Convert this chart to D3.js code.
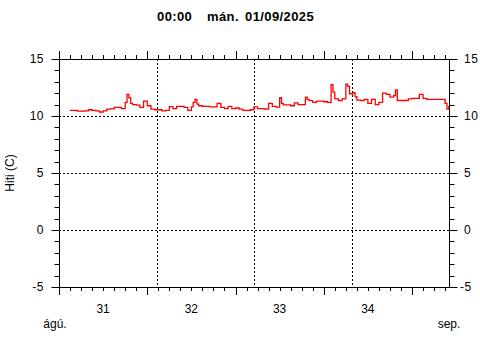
<!DOCTYPE html>
<html><head><meta charset="utf-8">
<script src="https://cdn.jsdelivr.net/npm/d3@7"></script>
<style>
html,body{margin:0;padding:0;background:#fff;}
svg{display:block;font-family:"Liberation Sans",Arial,sans-serif;}
</style></head>
<body>
<svg id="chart" width="480" height="360"></svg>
<script>
// ---- data ----
const titleParts = ["00:00", "mán.", "01/09/2025"];
const yLabel = "Hiti (C)";
const dayLabels = ["31", "32", "33", "34"];
const monthLabels = ["ágú.", "sep."];
const yTicks = [-5, 0, 5, 10, 15];
const yGrid = [0, 5, 10];
// hours since start of 31 ágú.
const hours = [3,4,5,6,7,8,9,10,11,12,13,14,15,16,17,18,18.5,19,19.5,20,21,22,23,24,25,26,27,28,29,30,31,32,33,34,35,36,36.5,37,37.5,38,39,40,41,42,43,44,45,46,47,48,49,50,51,52,53,54,55,56,57,58,59,60,60.5,61,62,63,64,65,66,67,67.5,68,69,70,71,72,73,74,74.5,75,76,77,78,78.5,79,80,80.5,81,82,83,84,85,86,87,88,89,90,91,91.5,92,93,94,95,96,97,98,99,100,101,102,103,104,105,105.5,106];
const temps = [10.5,10.5,10.42,10.42,10.45,10.55,10.5,10.45,10.35,10.45,10.6,10.62,10.75,10.75,10.65,11.2,11.9,11.6,11.1,11.0,10.95,10.75,11.3,10.9,10.6,10.55,10.55,10.45,10.5,10.83,10.65,10.85,10.85,10.75,10.5,10.8,11.2,11.45,11.05,10.9,10.85,10.85,10.8,10.8,11.1,10.75,10.65,10.85,10.65,10.7,10.6,10.5,10.5,10.55,10.8,10.65,10.65,10.6,11.1,10.85,10.77,11.6,11.1,10.98,10.98,10.9,11.15,11.0,11.0,11.65,11.45,11.35,11.2,11.3,11.3,11.25,11.2,12.75,12.1,11.5,11.35,11.5,12.8,12.6,11.95,12.05,11.7,11.4,11.36,11.45,11.1,11.45,11.0,11.2,12.0,11.9,11.65,11.8,12.3,11.36,11.36,11.36,11.5,11.55,11.55,11.9,11.55,11.45,11.45,11.45,11.45,11.45,11.1,10.6,10.9];

// ---- layout ----
const L = 59, R = 449, T = 59, B = 287;
const xDomainEnd = 106.06;
const svg = d3.select("#chart");
const x = d3.scaleLinear().domain([0, xDomainEnd]).range([L, R]);
const y = d3.scaleLinear().domain([-5, 15]).range([B, T]);

const data = hours.map((h, i) => ({h, v: temps[i]}));

// grid
const g = svg.append("g");
g.selectAll(".hg").data(yGrid).join("line")
  .attr("x1", L).attr("x2", R)
  .attr("y1", d => Math.round(y(d)) + 0.5).attr("y2", d => Math.round(y(d)) + 0.5)
  .attr("stroke", "#000").attr("stroke-dasharray", "2,2");
const vGrid = d3.range(1, 4).map(i => xDomainEnd * i / 4);
g.selectAll(".vg").data(vGrid).join("line")
  .attr("x1", d => Math.round(x(d)) + 0.5).attr("x2", d => Math.round(x(d)) + 0.5)
  .attr("y1", T).attr("y2", B)
  .attr("stroke", "#000").attr("stroke-dasharray", "2,2");

// data line
svg.append("path").datum(data)
  .attr("fill", "none").attr("stroke", "#ff0000").attr("stroke-width", 1.3)
  .attr("d", d3.line().x(d => x(d.h)).y(d => y(d.v)).curve(d3.curveStepAfter));

// frame
svg.append("rect").attr("x", L + 0.5).attr("y", T + 0.5).attr("width", R - L).attr("height", B - T)
  .attr("fill", "none").attr("stroke", "#000");

// x ticks (top & bottom)
const xMajor = d3.range(0, xDomainEnd, 24);
const xMinor = d3.range(0, xDomainEnd, 3).filter(h => h % 24 !== 0);
const xax = svg.append("g").attr("stroke", "#000");
xax.selectAll(".xtM").data(xMajor).join("line")
  .attr("x1", d => Math.round(x(d)) + 0.5).attr("x2", d => Math.round(x(d)) + 0.5)
  .attr("y1", T - 8).attr("y2", T);
xax.selectAll(".xtm").data(xMinor).join("line")
  .attr("x1", d => Math.round(x(d)) + 0.5).attr("x2", d => Math.round(x(d)) + 0.5)
  .attr("y1", T - 4).attr("y2", T);
xax.selectAll(".xbM").data(xMajor).join("line")
  .attr("x1", d => Math.round(x(d)) + 0.5).attr("x2", d => Math.round(x(d)) + 0.5)
  .attr("y1", B).attr("y2", B + 8);
xax.selectAll(".xbm").data(xMinor).join("line")
  .attr("x1", d => Math.round(x(d)) + 0.5).attr("x2", d => Math.round(x(d)) + 0.5)
  .attr("y1", B).attr("y2", B + 4);

// y ticks (left & right)
const yMinor = d3.range(-5, 16, 1).filter(v => v % 5 !== 0);
const yax = svg.append("g").attr("stroke", "#000");
[[L, -1], [R, 1]].forEach(([x0, dir]) => {
  yax.selectAll(null).data(yTicks).join("line")
    .attr("x1", x0 + 0.5).attr("x2", x0 + 0.5 + dir * 8)
    .attr("y1", d => Math.round(y(d)) + 0.5).attr("y2", d => Math.round(y(d)) + 0.5);
  yax.selectAll(null).data(yMinor).join("line")
    .attr("x1", x0 + 0.5).attr("x2", x0 + 0.5 + dir * 5)
    .attr("y1", d => Math.round(y(d)) + 0.5).attr("y2", d => Math.round(y(d)) + 0.5);
});

// y labels
const fs = 12;
svg.selectAll(".yl").data(yTicks).join("text")
  .attr("x", 44).attr("y", d => y(d)).attr("dy", "0.35em")
  .attr("text-anchor", "end").attr("font-size", fs).attr("letter-spacing", 0.5).text(d => d);
svg.selectAll(".yr").data(yTicks).join("text")
  .attr("x", d => d < 0 ? 460 : 464).attr("y", d => y(d)).attr("dy", "0.35em")
  .attr("text-anchor", "start").attr("font-size", fs).attr("letter-spacing", 0.5).text(d => d);

// day labels
svg.selectAll(".dl").data(dayLabels).join("text")
  .attr("x", (d, i) => x(i * 24 + 12)).attr("y", 313)
  .attr("text-anchor", "middle").attr("font-size", fs).text(d => d);
svg.append("text").attr("x", x(0) - 4).attr("y", 328).attr("text-anchor", "middle")
  .attr("font-size", fs).text(monthLabels[0]);
svg.append("text").attr("x", x(xDomainEnd)).attr("y", 328).attr("text-anchor", "middle")
  .attr("font-size", fs).text(monthLabels[1]);

// y axis title
svg.append("text").attr("transform", `translate(14,${(T + B) / 2}) rotate(-90)`)
  .attr("text-anchor", "middle").attr("font-size", fs).text(yLabel);

// title
const titleX = [157, 207, 245];
svg.selectAll(".tt").data(titleParts).join("text")
  .attr("x", (d, i) => titleX[i]).attr("y", 21)
  .attr("font-size", 13).attr("font-weight", "bold").attr("letter-spacing", 0.4).text(d => d);
</script>
</body></html>
